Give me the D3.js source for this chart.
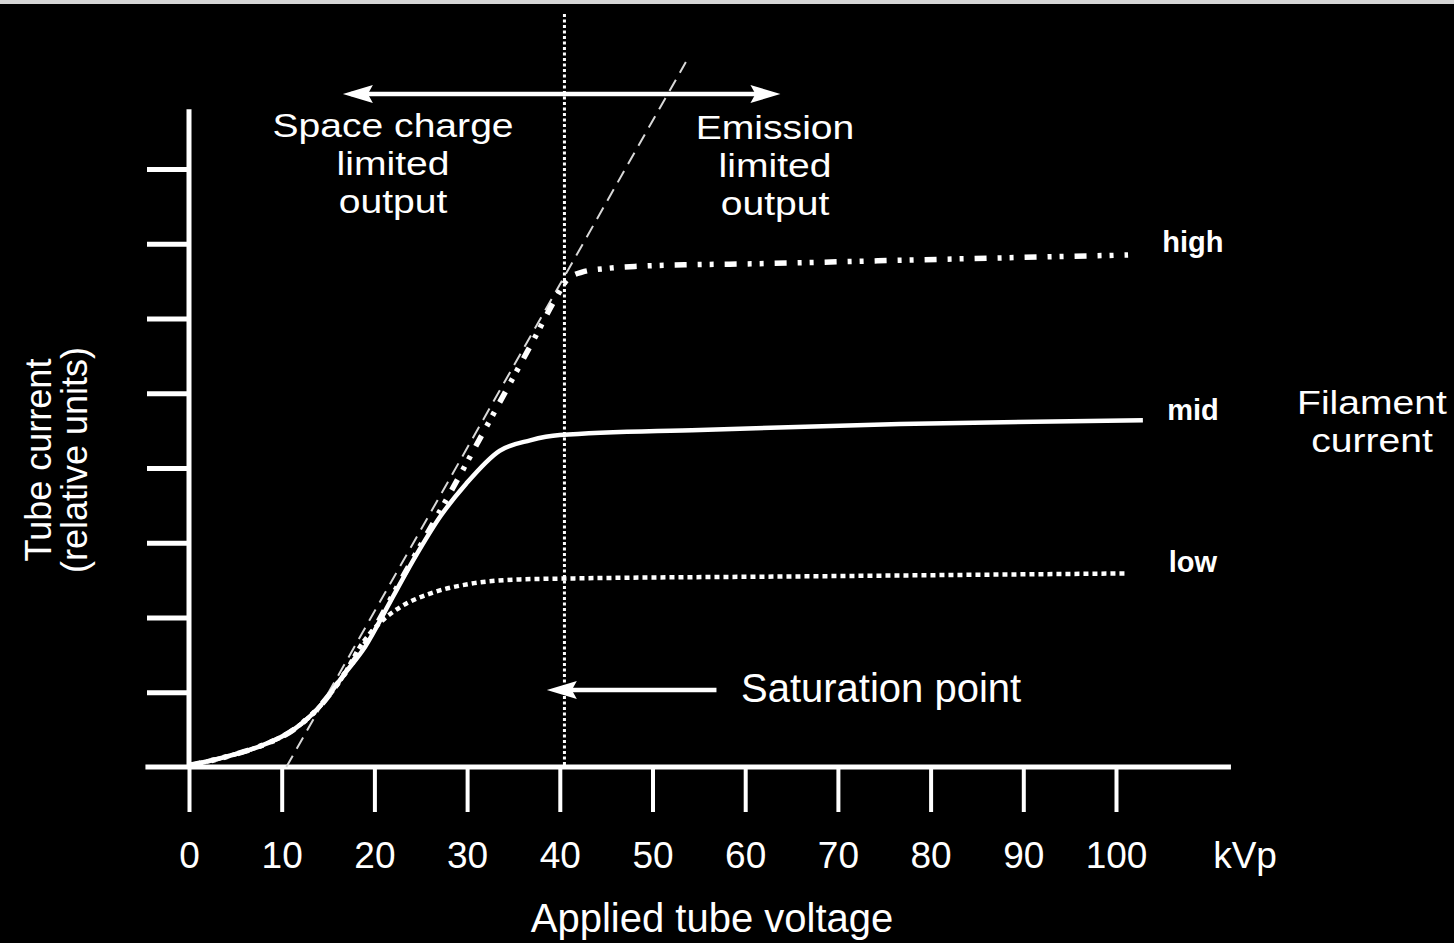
<!DOCTYPE html>
<html>
<head>
<meta charset="utf-8">
<script src="https://cdn.jsdelivr.net/npm/d3@7"></script>
<style>
  body { margin: 0; background: #000; }
  svg { display: block; font-family: "Liberation Sans", Arial, sans-serif; }
</style>
</head>
<body>
<div id="chart"></div>
<script>
// x: applied tube voltage (kVp), y: tube current (relative units)
const kvpTicks = [0, 10, 20, 30, 40, 50, 60, 70, 80, 90, 100];
const currentTicks = [1, 2, 3, 4, 5, 6, 7, 8];

const highCurve = [
  [0, 0.02], [4.4, 0.15], [7.7, 0.28], [11.4, 0.51], [14.1, 0.81], [16.8, 1.25],
  [19.5, 1.75], [22.5, 2.42], [25.5, 3.08], [28.5, 3.74], [31.5, 4.42], [34.4, 5.08],
  [37.2, 5.72], [39.7, 6.3], [40.8, 6.52], [42.4, 6.62], [45.1, 6.67], [48.7, 6.7],
  [54.4, 6.72], [60, 6.73], [77, 6.78], [101.3, 6.85]
];
const midCurve = [
  [0, 0.02], [4.4, 0.15], [7.7, 0.28], [11.4, 0.51], [14.1, 0.81], [16.8, 1.25],
  [19.0, 1.61], [21.7, 2.21], [24.4, 2.81], [27.1, 3.35], [29.9, 3.79], [33.5, 4.23],
  [36.8, 4.37], [40, 4.44], [55.1, 4.51], [76.7, 4.59], [102.9, 4.64]
];
const lowCurve = [
  [0, 0.02], [4.4, 0.15], [7.7, 0.28], [11.4, 0.51], [14.1, 0.81], [16.8, 1.25],
  [18.4, 1.6], [20.6, 1.93], [22.8, 2.14], [26.0, 2.32], [30.3, 2.45], [35.7, 2.51],
  [40, 2.52], [65.9, 2.55], [101.3, 2.59]
];
const curveNames = ['high', 'mid', 'low'];
const tangentLine = [[10.5, 0], [53.6, 9.43]];
const saturationKvp = 40.5;

const W = 1454, H = 943;
const white = '#fff';

const svg = d3.select('#chart').append('svg')
  .attr('width', W)
  .attr('height', H);

svg.append('rect').attr('width', W).attr('height', H).attr('fill', '#000');
svg.append('rect').attr('width', W).attr('height', 4).attr('fill', '#d6d6d6');

const x = d3.scaleLinear().domain([0, 100]).range([189, 1116]);
const y = d3.scaleLinear().domain([0, 8]).range([767, 169]);

// axes
const xAxis = d3.axisBottom(x)
  .tickValues(kvpTicks)
  .tickSize(45)
  .tickSizeOuter(0);

const gx = svg.append('g')
  .attr('transform', `translate(0,${y(0)})`)
  .call(xAxis)
  .attr('font-family', '"Liberation Sans", Arial, sans-serif')
  .attr('font-size', 37);
gx.select('.domain').remove();
gx.selectAll('.tick line').attr('stroke', white).attr('stroke-width', 4);
gx.selectAll('.tick text').attr('fill', white).attr('y', 101).attr('dy', 0);

const yAxis = d3.axisLeft(y)
  .tickValues(currentTicks)
  .tickSize(42)
  .tickSizeOuter(0)
  .tickFormat('');

const gy = svg.append('g')
  .attr('transform', `translate(${x(0)},0)`)
  .call(yAxis);
gy.select('.domain').remove();
gy.selectAll('.tick line').attr('stroke', white).attr('stroke-width', 5);

svg.append('line')
  .attr('x1', x(-4.7)).attr('x2', x(112.4))
  .attr('y1', y(0)).attr('y2', y(0))
  .attr('stroke', white).attr('stroke-width', 5);

svg.append('line')
  .attr('x1', x(0)).attr('x2', x(0))
  .attr('y1', y(8.8)).attr('y2', y(0))
  .attr('stroke', white).attr('stroke-width', 5);

// saturation line and tangent
svg.append('line')
  .attr('x1', x(saturationKvp)).attr('x2', x(saturationKvp))
  .attr('y1', 14).attr('y2', y(0))
  .attr('stroke', white).attr('stroke-width', 3)
  .attr('stroke-dasharray', '3,2.5');

const line = d3.line()
  .x(d => x(d[0]))
  .y(d => y(d[1]));

svg.append('path')
  .attr('d', line(tangentLine))
  .attr('fill', 'none')
  .attr('stroke', '#d8d8d8').attr('stroke-width', 2)
  .attr('stroke-dasharray', '13,8');

// curves
const smooth = d3.line()
  .x(d => x(d[0]))
  .y(d => y(d[1]))
  .curve(d3.curveMonotoneX);

svg.append('path')
  .attr('d', smooth(lowCurve))
  .attr('fill', 'none')
  .attr('stroke', white).attr('stroke-width', 4.5)
  .attr('stroke-dasharray', '5,4');

svg.append('path')
  .attr('d', smooth(midCurve))
  .attr('fill', 'none')
  .attr('stroke', white).attr('stroke-width', 4.5);

svg.append('path')
  .attr('d', smooth(highCurve))
  .attr('fill', 'none')
  .attr('stroke', white).attr('stroke-width', 5.5)
  .attr('stroke-dasharray', '12,11,4,8,4,11');

// curve labels
const labelY = [252, 420, 572];
svg.selectAll('.curve-label')
  .data(curveNames)
  .enter().append('text')
  .attr('class', 'curve-label')
  .attr('x', x(108.3))
  .attr('y', (d, i) => labelY[i])
  .attr('text-anchor', 'middle')
  .attr('font-weight', 'bold')
  .attr('font-size', 29)
  .attr('fill', white)
  .text(d => d);

// arrows
function arrowHead(tipX, tipY, dir) {
  const len = 30, half = 9, notch = 5;
  return `M${tipX},${tipY}L${tipX - dir * len},${tipY - half}L${tipX - dir * (len - notch)},${tipY}L${tipX - dir * len},${tipY + half}Z`;
}

const topArrowY = 94;
svg.append('line')
  .attr('x1', x(17.5)).attr('x2', x(62.8))
  .attr('y1', topArrowY).attr('y2', topArrowY)
  .attr('stroke', white).attr('stroke-width', 4.5);
svg.append('path').attr('d', arrowHead(x(16.6), topArrowY, -1)).attr('fill', white);
svg.append('path').attr('d', arrowHead(x(63.8), topArrowY, 1)).attr('fill', white);

const satY = y(1.03);
svg.append('line')
  .attr('x1', x(56.9)).attr('x2', x(40.5))
  .attr('y1', satY).attr('y2', satY)
  .attr('stroke', white).attr('stroke-width', 4.5);
svg.append('path').attr('d', arrowHead(x(38.6), satY, -1)).attr('fill', white);

// text
function block(lines, cx, baseline, step, size, anchor, stretch) {
  const t = svg.append('text')
    .attr('fill', white)
    .attr('font-size', size)
    .attr('text-anchor', anchor || 'middle')
    .attr('transform', `translate(${cx},0) scale(${stretch || 1},1)`);
  lines.forEach((s, i) => {
    t.append('tspan').attr('x', 0).attr('y', baseline + i * step).text(s);
  });
}

block(['Space charge', 'limited', 'output'], 393, 137, 38, 34, 'middle', 1.15);
block(['Emission', 'limited', 'output'], 775, 139, 38, 34, 'middle', 1.15);
block(['Filament', 'current'], 1372, 414, 38, 34, 'middle', 1.15);
block(['Saturation point'], 741, 702, 0, 40, 'start');
block(['kVp'], 1245, 868, 0, 37);
block(['Applied tube voltage'], 712, 932, 0, 40);

svg.append('text')
  .attr('transform', 'translate(51,460) rotate(-90)')
  .attr('text-anchor', 'middle')
  .attr('fill', white)
  .attr('font-size', 36)
  .text('Tube current');
svg.append('text')
  .attr('transform', 'translate(87,460) rotate(-90)')
  .attr('text-anchor', 'middle')
  .attr('fill', white)
  .attr('font-size', 36)
  .text('(relative units)');
</script>
</body>
</html>
